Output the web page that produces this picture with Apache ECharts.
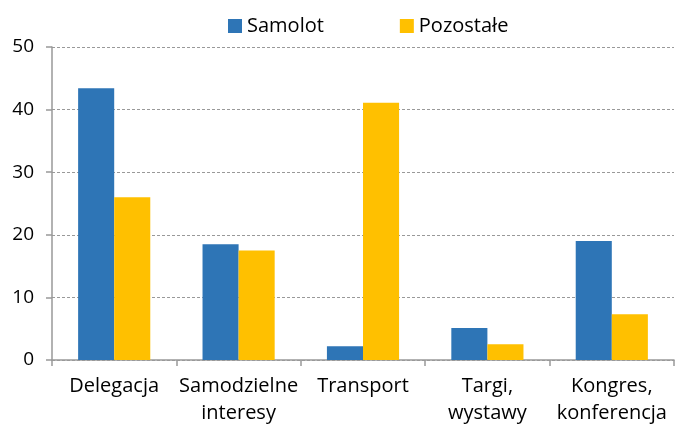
<!DOCTYPE html>
<html>
<head>
<meta charset="utf-8">
<script src="https://cdn.jsdelivr.net/npm/echarts@6/dist/echarts.min.js"></script>
<style>
  html, body { margin: 0; padding: 0; background: #fff; }
  #chart { width: 675px; height: 427px; }
</style>
</head>
<body>
<div id="chart"></div>
<script>
// categories and values
const categories = ['Delegacja', 'Samodzielne\ninteresy', 'Transport', 'Targi,\nwystawy', 'Kongres,\nkonferencja']
const samolot = [43.4, 18.5, 2.2, 5.1, 19.0]
const pozostale = [26.0, 17.5, 41.1, 2.5, 7.3]
const seriesNames = ['Samolot', 'Pozostałe']
const yTicks = [0, 10, 20, 30, 40, 50]

const font = '"Open Sans", sans-serif'

const chart = echarts.init(document.getElementById('chart'))
chart.setOption({
  animation: false,
  backgroundColor: '#fff',
  color: ['#2E75B6', '#FFC000'],
  textStyle: { fontFamily: font },
  legend: {
    data: seriesNames,
    top: 11,
    left: 223,
    itemWidth: 14,
    itemHeight: 14,
    itemGap: 76,
    icon: 'rect',
    textStyle: { fontSize: 20, color: '#000', fontFamily: font }
  },
  grid: {
    left: 52,
    right: 1,
    top: 47,
    bottom: 67,
    containLabel: false
  },
  xAxis: {
    type: 'category',
    data: categories,
    boundaryGap: true,
    axisLine: { lineStyle: { color: '#999', width: 1.5 } },
    axisTick: { show: true, length: 6, lineStyle: { color: '#999', width: 1.5 } },
    axisLabel: { fontSize: 20, color: '#000', margin: 13, lineHeight: 27, interval: 0 }
  },
  yAxis: {
    type: 'value',
    min: yTicks[0],
    max: yTicks[yTicks.length - 1],
    interval: 10,
    axisLine: { show: true, lineStyle: { color: '#999', width: 1.5 } },
    axisTick: { show: true, length: 6, lineStyle: { color: '#999', width: 1.5 } },
    axisLabel: { fontSize: 19, color: '#000', margin: 18 },
    splitLine: { lineStyle: { color: '#999', type: [3, 2], width: 1 } }
  },
  series: [
    {
      name: seriesNames[0],
      type: 'bar',
      data: samolot,
      barGap: 0,
      barCategoryGap: '42%'
    },
    {
      name: seriesNames[1],
      type: 'bar',
      data: pozostale,
      barGap: 0,
      barCategoryGap: '42%'
    }
  ]
})
</script>
</body>
</html>
